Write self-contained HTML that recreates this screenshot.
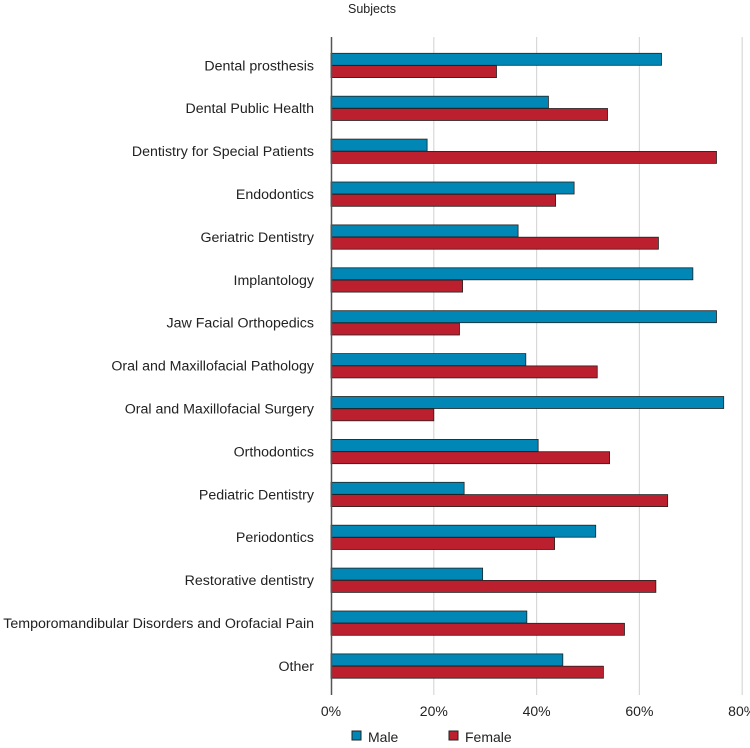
<!DOCTYPE html>
<html><head><meta charset="utf-8"><style>
body{margin:0;background:#fff;width:750px;height:743px;overflow:hidden;font-family:"Liberation Sans",sans-serif;}
svg text{font-family:"Liberation Sans",sans-serif;fill:#222;}
</style></head><body>
<svg id="chart" width="750" height="743">
<text x="372" y="13" font-size="12.5" text-anchor="middle">Subjects</text>
<g id="grid"></g><g id="bars"></g><g id="labels"></g><g id="ticks"></g>
<line x1="331.5" y1="37" x2="331.5" y2="695" stroke="#555" stroke-width="1.5"/>
<g>
<rect x="352" y="731" width="9" height="9" fill="#0087b5" stroke="#222"/>
<text x="368" y="742" font-size="14">Male</text>
<rect x="449" y="731" width="9" height="9" fill="#bc1f2e" stroke="#222"/>
<text x="465" y="742" font-size="14">Female</text>
</g>
</svg>
<script>
const categories=["Dental prosthesis","Dental Public Health","Dentistry for Special Patients","Endodontics","Geriatric Dentistry","Implantology","Jaw Facial Orthopedics","Oral and Maxillofacial Pathology","Oral and Maxillofacial Surgery","Orthodontics","Pediatric Dentistry","Periodontics","Restorative dentistry","Temporomandibular Disorders and Orofacial Pain","Other"];
const maleValues=[64.3,42.3,18.7,47.3,36.4,70.4,75.0,37.9,76.4,40.3,25.9,51.5,29.5,38.1,45.1];
const femaleValues=[32.2,53.8,75.0,43.7,63.7,25.6,25.0,51.8,20.0,54.2,65.5,43.5,63.2,57.1,53.0];
const tickValues=[0,20,40,60,80];
const tickLabels=["0%","20%","40%","60%","80%"];
const NS="http://www.w3.org/2000/svg";
const x=v=>331+v*5.14;
const yTop=i=>53.3+i*42.9;
function mk(tag,attrs,parent){const e=document.createElementNS(NS,tag);for(const k in attrs)e.setAttribute(k,attrs[k]);parent.appendChild(e);return e;}
const grid=document.getElementById('grid'),bars=document.getElementById('bars'),labels=document.getElementById('labels'),ticks=document.getElementById('ticks');
tickValues.forEach((t,i)=>{
 if(t>0){const g=mk('line',{x1:x(t),x2:x(t),y1:37,y2:695,stroke:'#d8d8d8','stroke-width':1.2},grid);
 
 }
 const tx=mk('text',{x:x(t),y:716,'font-size':14,'text-anchor':'middle'},ticks);
 tx.textContent=tickLabels[i];
 
 
});
categories.forEach((c,i)=>{
 const y=yTop(i);
 const m=mk('rect',{x:331,y:y,width:x(maleValues[i])-331,height:12,fill:'#0087b5',stroke:'#222','stroke-width':0.8},bars);
 
 
 const f=mk('rect',{x:331,y:y+12.3,width:x(femaleValues[i])-331,height:12,fill:'#bc1f2e',stroke:'#222','stroke-width':0.8},bars);
 
 
 const l=mk('text',{x:314,y:y+17,'font-size':14.2,'text-anchor':'end'},labels);
 l.textContent=c;
 
 
});
</script>
</body></html>
